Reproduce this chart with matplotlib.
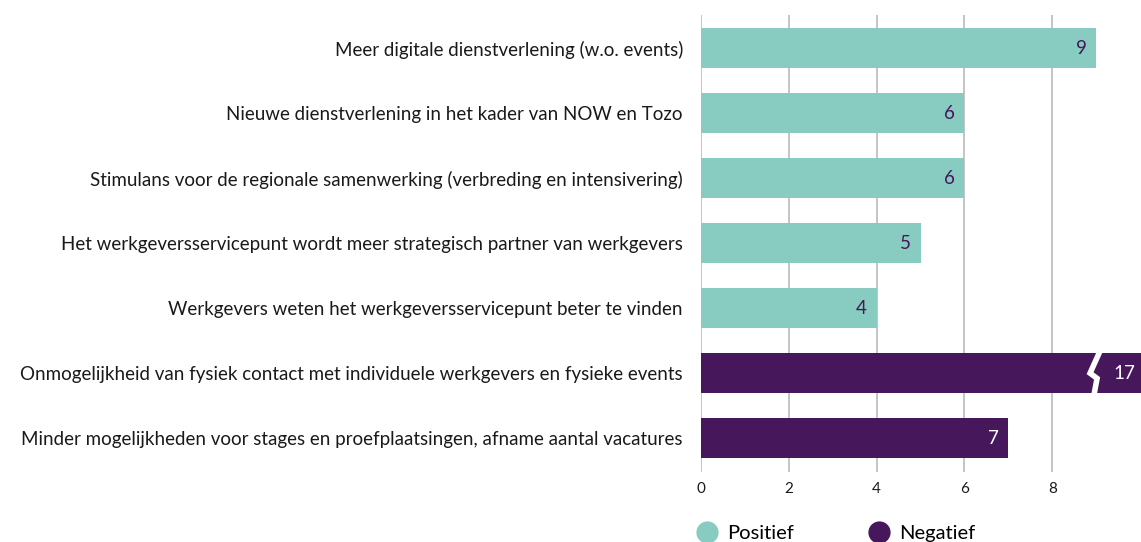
import matplotlib
matplotlib.use("Agg")
import matplotlib.pyplot as plt
from matplotlib.lines import Line2D

plt.rcParams['font.family'] = ['Lato', 'DejaVu Sans']

# Data
categories = [
    "Meer digitale dienstverlening (w.o. events)",
    "Nieuwe dienstverlening in het kader van NOW en Tozo",
    "Stimulans voor de regionale samenwerking (verbreding en intensivering)",
    "Het werkgeversservicepunt wordt meer strategisch partner van werkgevers",
    "Werkgevers weten het werkgeversservicepunt beter te vinden",
    "Onmogelijkheid van fysiek contact met individuele werkgevers en fysieke events",
    "Minder mogelijkheden voor stages en proefplaatsingen, afname aantal vacatures",
]
values = [9, 6, 6, 5, 4, 17, 7]
kind = ["Positief"] * 5 + ["Negatief"] * 2
xticks = [0, 2, 4, 6, 8]

COLORS = {'Positief': '#88CBC0', 'Negatief': '#46175A'}
TEXT_ON = {'Positief': '#46175A', 'Negatief': '#FFFFFF'}
XMAX = 10.02

fig = plt.figure(figsize=(11.41, 5.42), dpi=100)
ax = fig.add_axes([701 / 1141, 1 - 472 / 542, 1 - 701 / 1141, (472 - 15) / 542])

ypos = list(range(len(categories)))
for y, v, k in zip(ypos, values, kind):
    ax.barh(y, v, height=0.615, color=COLORS[k], zorder=2)
    shown = min(v, XMAX)
    if v > XMAX:
        # axis break marker on the clipped bar
        ax.plot([9.08, 8.86, 9.02, 8.95], [y - 0.33, y + 0.0, y + 0.08, y + 0.33],
                color='white', lw=4, solid_joinstyle='miter', zorder=3, clip_on=False)
        ax.text(shown - 0.14, y, str(v), ha='right', va='center',
                fontsize=13.5, color=TEXT_ON[k], zorder=4)
    else:
        ax.text(shown - 0.22, y, str(v), ha='right', va='center',
                fontsize=13.5, color=TEXT_ON[k], zorder=4)

ax.set_xlim(0, XMAX)
ax.set_ylim(6.52, -0.51)
ax.set_yticks(ypos)
ax.set_yticklabels(categories, fontsize=13.5, color='#1a1a1a')
ax.set_xticks(xticks)
ax.set_xticklabels([str(t) for t in xticks], fontsize=11, color='#1a1a1a')
ax.tick_params(axis='y', length=0, pad=13)
ax.tick_params(axis='x', length=0, pad=7)
ax.grid(True, axis='x', color='#c4c4c4', linewidth=1.4, zorder=1)
ax.set_axisbelow(True)
for s in ax.spines.values():
    s.set_visible(False)

handles = [Line2D([], [], marker='o', linestyle='none', markersize=15,
                  markerfacecolor=COLORS[k], markeredgecolor=COLORS[k]) for k in ['Positief', 'Negatief']]
fig.legend(handles, ['Positief', 'Negatief'], loc='center left',
           bbox_to_anchor=(689 / 1141, 1 - 533 / 542), ncol=2, frameon=False,
           fontsize=14.5, handlelength=1.0, handletextpad=0.5, columnspacing=3.7,
           borderaxespad=0)

fig.savefig("out.png", dpi=100)
